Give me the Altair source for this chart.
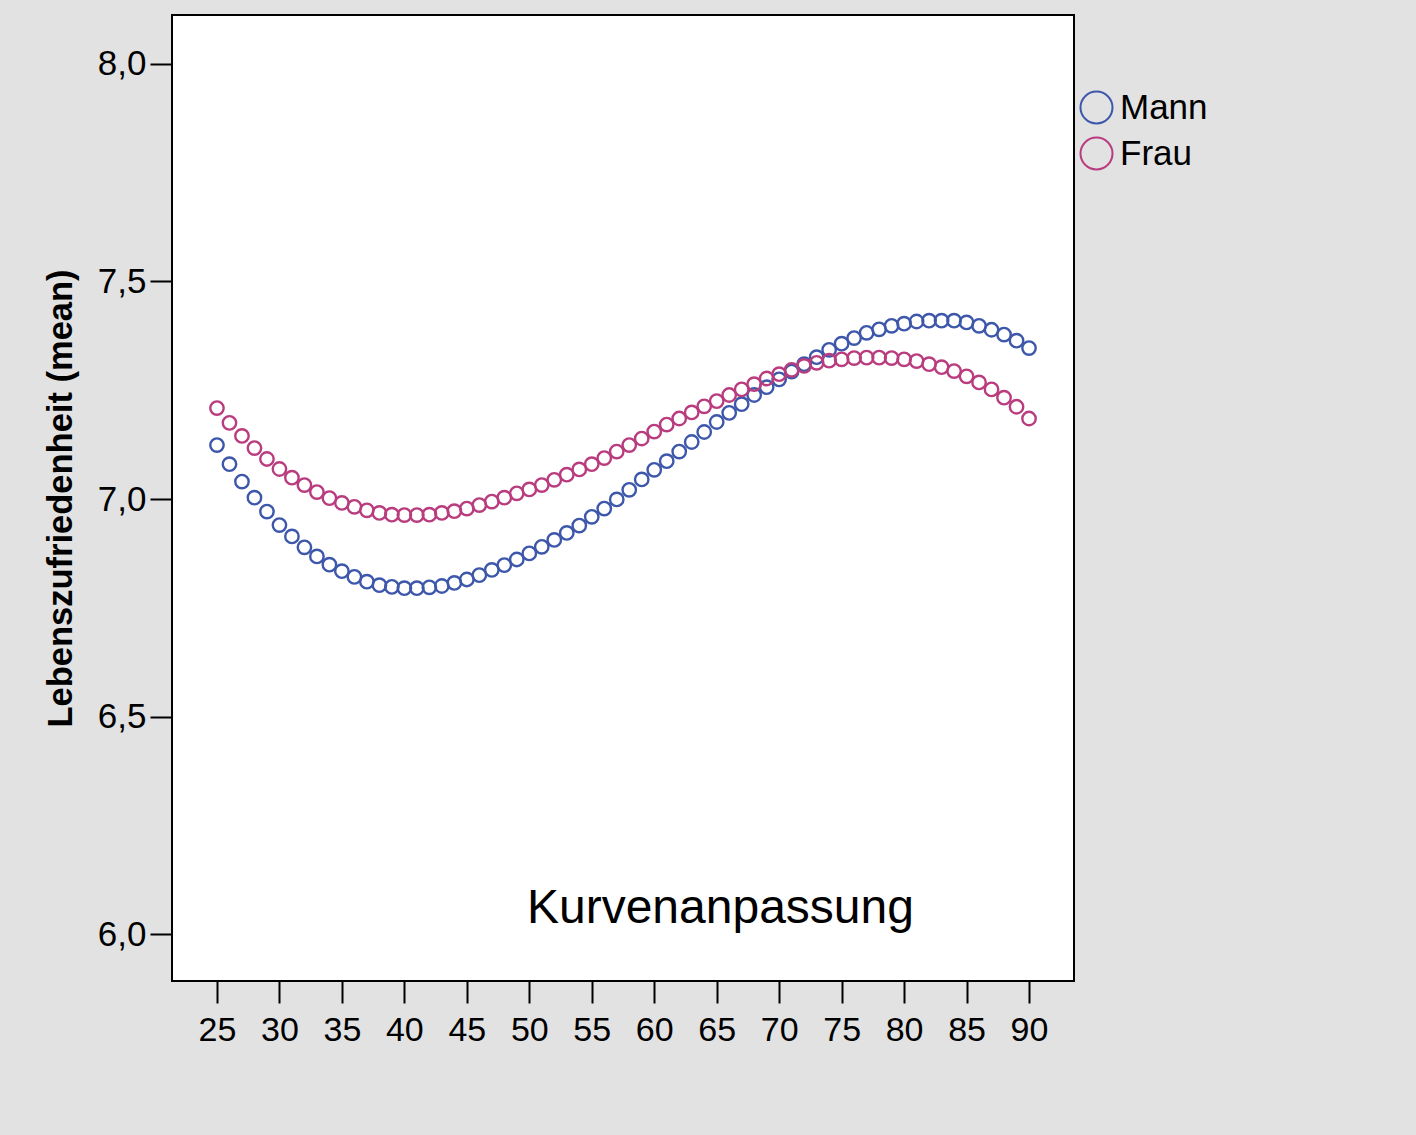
import altair as alt
import pandas as pd

ages = list(range(25, 91))

mann = [7.124, 7.080, 7.040, 7.003, 6.971, 6.940, 6.914, 6.889, 6.868, 6.849,
        6.834, 6.821, 6.810, 6.802, 6.798, 6.795, 6.795, 6.797, 6.800, 6.807,
        6.815, 6.825, 6.837, 6.848, 6.861, 6.875, 6.890, 6.906, 6.922, 6.939,
        6.959, 6.978, 6.999, 7.021, 7.045, 7.067, 7.087, 7.109, 7.131, 7.154,
        7.177, 7.198, 7.218, 7.239, 7.257, 7.275, 7.293, 7.310, 7.326, 7.343,
        7.357, 7.370, 7.382, 7.390, 7.398, 7.403, 7.408, 7.410, 7.410, 7.410,
        7.406, 7.398, 7.389, 7.378, 7.364, 7.347]

frau = [7.209, 7.175, 7.145, 7.117, 7.092, 7.069, 7.049, 7.032, 7.016, 7.002,
        6.991, 6.982, 6.974, 6.968, 6.964, 6.963, 6.963, 6.964, 6.968, 6.972,
        6.978, 6.986, 6.994, 7.003, 7.013, 7.022, 7.032, 7.044, 7.056, 7.068,
        7.080, 7.094, 7.109, 7.124, 7.139, 7.155, 7.171, 7.185, 7.199, 7.213,
        7.225, 7.239, 7.252, 7.264, 7.277, 7.287, 7.297, 7.306, 7.313, 7.318,
        7.321, 7.324, 7.325, 7.325, 7.324, 7.321, 7.317, 7.310, 7.303, 7.294,
        7.282, 7.268, 7.252, 7.233, 7.212, 7.185]

groups = ["Mann", "Frau"]
colors = ["#3d57ab", "#b93c7e"]
x_ticks = [25, 30, 35, 40, 45, 50, 55, 60, 65, 70, 75, 80, 85, 90]
y_ticks = [6.0, 6.5, 7.0, 7.5, 8.0]
annotation = ["Kurvenanpassung"]
y_title = "Lebenszufriedenheit (mean)"

df = pd.DataFrame({
    "Alter": ages + ages,
    "Wert": mann + frau,
    "Geschlecht": ["Mann"] * len(ages) + ["Frau"] * len(ages),
})

FONT = "Liberation Sans"

x_scale = alt.Scale(domain=[21.4, 93.6], nice=False, zero=False)
y_scale = alt.Scale(domain=[5.892, 8.1126], nice=False, zero=False)

points = alt.Chart(df).mark_point(
    shape="circle", filled=False, size=180, strokeWidth=2.4, opacity=1
).encode(
    x=alt.X("Alter:Q", scale=x_scale, axis=alt.Axis(
        values=x_ticks, title=None, domain=False, grid=False,
        tickSize=22, tickWidth=2, tickColor="black",
        labelFontSize=34, labelFont=FONT, labelColor="black",
        labelPadding=10, labelFlush=False)),
    y=alt.Y("Wert:Q", scale=y_scale, axis=alt.Axis(
        values=y_ticks, title=y_title, domain=False, grid=False,
        tickSize=22, tickWidth=2, tickColor="black",
        labelFontSize=35, labelFont=FONT, labelColor="black",
        labelPadding=4, labelFlush=False,
        labelExpr="replace(format(datum.value, '.1f'), '.', ',')",
        titleFont=FONT, titleFontSize=34.5, titleFontWeight="bold",
        titleColor="black", titleX=-111, titleY=483,
        titleAlign="center", titleBaseline="middle")),
    color=alt.Color("Geschlecht:N",
                    scale=alt.Scale(domain=groups, range=colors),
                    legend=alt.Legend(
                        orient="none", legendX=907, legendY=75, title=None,
                        labelFontSize=35, labelFont=FONT, labelColor="black",
                        symbolSize=1024, symbolStrokeWidth=2, symbolType="circle",
                        labelOffset=6, rowPadding=5)),
)

text = alt.Chart(pd.DataFrame({"t": annotation})).mark_text(
    fontSize=48, font=FONT, color="black", align="center", baseline="middle"
).encode(
    x=alt.datum(65.3, scale=x_scale),
    y=alt.datum(6.058, scale=y_scale),
    text="t:N",
)

chart = alt.layer(points, text).properties(
    width=902, height=966,
    background="#e2e2e2",
    padding={"left": 172, "top": 15, "right": 342, "bottom": 154},
    autosize=alt.AutoSizeParams(type="none"),
).configure_view(
    fill="white", stroke="black", strokeWidth=2
)

chart.save("out.html", embed_options={"renderer": "svg", "actions": False})
